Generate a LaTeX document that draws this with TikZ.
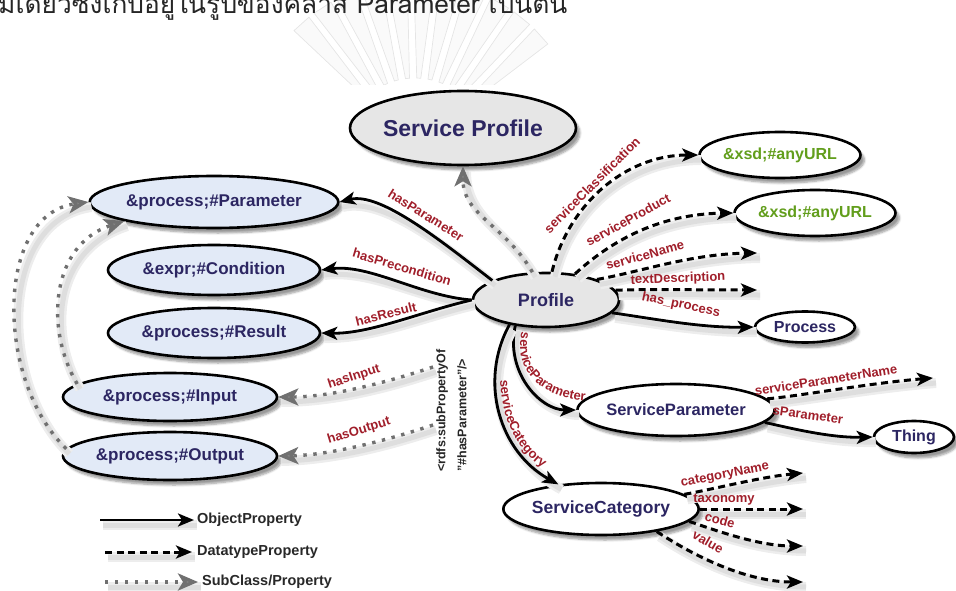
\documentclass[tikz,border=0pt]{standalone}
\usepackage{fontspec}
\setmainfont{Liberation Sans}
\newfontfamily\thaifont[Script=Thai]{Loma}
\usetikzlibrary{arrows.meta,shapes.geometric,shadows.blur,decorations.text}

\newcommand\fsz[1]{\fontsize{#1}{#1}\selectfont}

\definecolor{navytext}{RGB}{44,38,98}
\definecolor{labelred}{RGB}{160,30,42}
\definecolor{paleblue}{RGB}{226,234,247}
\definecolor{palegray}{RGB}{230,230,230}
\definecolor{urlgreen}{RGB}{98,158,28}
\definecolor{dotgray}{RGB}{112,112,112}
\definecolor{legendtext}{RGB}{40,40,40}

\tikzset{
  cls/.style={ellipse, draw=black, line width=2.6pt, inner sep=0pt,
    text=navytext, font=\fsz{17}\bfseries,
    blur shadow={shadow xshift=4pt, shadow yshift=-5pt,
      shadow blur steps=6, shadow opacity=40}},
  lbl/.style={text=labelred, font=\fsz{13}\bfseries, inner sep=0pt},
  arclabel/.style={decorate, decoration={text along path,
    text={|\fsz{13}\bfseries\color{labelred}|#1}, text align={left indent=1pt}}},
  % soft shadow under a connector: a wide pale band and a narrower darker core
  lineshadow/.style={
    preaction={draw=black!7, line width=10pt, solid, arrows=-,
      transform canvas={shift={(3pt,-5pt)}}},
    preaction={draw=black!13, line width=5pt, solid, arrows=-,
      transform canvas={shift={(3pt,-5pt)}}}},
  objarrow/.style={draw=black, line width=2.8pt, lineshadow,
    -{Stealth[length=16pt, width=13pt, inset=4pt]}},
  dataarrow/.style={draw=black, line width=3pt, dash pattern=on 7pt off 4.5pt,
    lineshadow, -{Stealth[length=16pt, width=13pt, inset=4pt]}},
  subarrow/.style={draw=dotgray, line width=3.4pt, dash pattern=on 3.4pt off 6.6pt,
    lineshadow, -{Stealth[length=20pt, width=17pt, inset=5pt, fill=dotgray!85]}},
  ray/.style={draw=gray!20, fill=gray!4, line width=0.7pt}
}

\begin{document}
\begin{tikzpicture}[x=1pt, y=-1pt]
\clip (0,0) rectangle (956,591);

% faint emblem rays behind everything
\begin{scope}
  \clip (240,0) rectangle (620,85);
  \foreach \a in {42,51,...,140} {
    \draw[ray] ([shift={(415,150)}] -\a-1.6:72) -- ([shift={(415,150)}] -\a-3.4:170)
      -- ([shift={(415,150)}] -\a+3.4:170) -- ([shift={(415,150)}] -\a+1.6:72) -- cycle;
  }
\end{scope}

% heading line of the surrounding text
\node[anchor=base west, inner sep=0pt, text=black!85] (heading) at (-2,14)
  {\thaifont\fsz{26.3}มีเดียวซึ่งเก็บอยู่ในรูปของคลาส Parameter เป็นต้น};

% classes
\node[cls, fill=palegray, minimum width=190pt, minimum height=74pt,
  font=\fsz{23}\bfseries] (sprof) at (463,128) {Service Profile};
\node[cls, fill=palegray, minimum width=146pt, minimum height=54pt,
  font=\fsz{18}\bfseries] (profile) at (546,300) {Profile};

\node[cls, fill=paleblue, minimum width=212pt, minimum height=52pt] (param) at (214,202) {\&process;\#Parameter};
\node[cls, fill=paleblue, minimum width=212pt, minimum height=50pt] (cond) at (214,270) {\&expr;\#Condition};
\node[cls, fill=paleblue, minimum width=212pt, minimum height=50pt] (result) at (214,333) {\&process;\#Result};
\node[cls, fill=paleblue, minimum width=214pt, minimum height=48pt] (input) at (170,397) {\&process;\#Input};
\node[cls, fill=paleblue, minimum width=214pt, minimum height=48pt] (output) at (170,456) {\&process;\#Output};

\node[cls, fill=white, text=urlgreen, font=\fsz{16}\bfseries, minimum width=156pt, minimum height=46pt] (urla) at (780,155) {\&xsd;\#anyURL};
\node[cls, fill=white, text=urlgreen, font=\fsz{16}\bfseries, minimum width=156pt, minimum height=46pt] (urlb) at (815,213) {\&xsd;\#anyURL};
\node[cls, fill=white, font=\fsz{16}\bfseries, minimum width=100pt, minimum height=31pt] (process) at (805,327) {Process};
\node[cls, fill=white, font=\fsz{16.5}\bfseries, minimum width=162pt, minimum height=52pt] (spar) at (676,410) {ServiceParameter};
\node[cls, fill=white, font=\fsz{16}\bfseries, minimum width=80pt, minimum height=32pt] (thing) at (914,437) {Thing};
\node[cls, fill=white, font=\fsz{17.5}\bfseries, minimum width=152pt, minimum height=52pt] (scat) at (601,509) {ServiceCategory};

% free ends of the datatype properties and of the sub-properties
\coordinate (nameEnd) at (757,253);
\coordinate (descEnd) at (757,290);
\coordinate (spnEnd) at (933,378);
\coordinate (cnEnd) at (803,473);
\coordinate (taxEnd) at (803,509);
\coordinate (codeEnd) at (803,546);
\coordinate (valEnd) at (803,582);
\coordinate (inStart) at (433,367);
\coordinate (outStart) at (433,425);

% object properties
\draw[objarrow] (profile.160) .. controls (440,240) and (380,192) .. (param.east);
\draw[objarrow] (profile.west) .. controls (420,296) and (370,264) .. (cond.east);
\draw[objarrow] (profile.west) .. controls (420,312) and (370,334) .. (result.east);
\draw[objarrow] (profile.349) .. controls (650,318) and (700,328) .. (process.west);
\draw[objarrow] (profile.220) .. controls (505,372) and (540,410) .. (spar.west);
\draw[objarrow] (profile.214) .. controls (478,382) and (500,452) .. (scat.150);
\draw[objarrow] (spar.352) .. controls (790,428) and (830,438) .. (thing.west);

% datatype properties
\draw[dataarrow] (profile.78) .. controls (568,205) and (625,155) .. (urla.west);
\draw[dataarrow] (profile.42) .. controls (612,240) and (660,214) .. (urlb.west);
\draw[dataarrow] (profile.22) .. controls (640,272) and (690,254) .. (nameEnd);
\draw[dataarrow] (profile.8) .. controls (650,289) and (700,290) .. (descEnd);
\draw[dataarrow] (spar.7) .. controls (800,396) and (870,383) .. (spnEnd);
\draw[dataarrow] (scat.10) .. controls (710,490) and (760,477) .. (cnEnd);
\draw[dataarrow] (scat.east) -- (taxEnd);
\draw[dataarrow] (scat.352) .. controls (720,532) and (760,546) .. (codeEnd);
\draw[dataarrow] (scat.338) .. controls (700,560) and (750,582) .. (valEnd);

% sub-class / sub-property links
\draw[subarrow] (profile.116) .. controls (505,225) and (463,215) .. (sprof.south);
\draw[subarrow] (inStart) .. controls (385,383) and (330,397) .. (input.east);
\draw[subarrow] (outStart) .. controls (385,441) and (330,455) .. (output.east);
\draw[subarrow] (input.172) .. controls (45,330) and (50,245) .. (param.192);
\draw[subarrow] (output.176) .. controls (-5,380) and (-5,215) .. (param.west);

% property names
\node[lbl, rotate=-32] (lpar) at (426,215) {hasParameter};
\node[lbl, rotate=-16.5] (lpre) at (402,267) {hasPrecondition};
\node[lbl, rotate=14] (lres) at (386,314) {hasResult};
\node[lbl, rotate=18] (linp) at (354,377) {hasInput};
\node[lbl, rotate=17] (lout) at (359,431) {hasOutput};
\node[lbl, rotate=45] (lcls) at (592,185) {serviceClassification};
\node[lbl, rotate=29] (lprd) at (628,220) {serviceProduct};
\node[lbl, rotate=15] (lnam) at (645,255) {serviceName};
\node[lbl, rotate=2] (ldsc) at (678,279) {textDescription};
\node[lbl, rotate=-12] (lproc) at (681,305) {has\_process};
\node[lbl, rotate=9] (lspn) at (826,380) {serviceParameterName};
\node[lbl, rotate=-8] (lsp) at (808,415) {sParameter};
\node[lbl, rotate=11] (lcn) at (725,475) {categoryName};
\node[lbl, rotate=0] (ltax) at (724,500) {taxonomy};
\node[lbl, rotate=-15] (lcode) at (720,520) {code};
\node[lbl, rotate=-30] (lval) at (708,542) {value};
\path[arclabel=serviceParameter] (522,331) .. controls (512,372) and (542,402) .. (600,401);
\path[arclabel=serviceCategory] (500,379) .. controls (502,425) and (520,462) .. (566,480);

% sub-property declaration
\node[rotate=90, anchor=north west, align=left, inner sep=0pt,
  font=\fsz{12.5}\bfseries, text=black!85, execute at begin node=\setlength{\baselineskip}{21pt}]
  (subprop) at (436,472) {<rdfs:subPropertyOf\\"\#hasParameter"/>};

% legend
\coordinate (lgA1) at (100,520); \coordinate (lgA2) at (194,520);
\coordinate (lgB1) at (105,552); \coordinate (lgB2) at (192,552);
\coordinate (lgC1) at (105,582); \coordinate (lgC2) at (198,582);
\draw[objarrow] (lgA1) -- (lgA2);
\draw[dataarrow] (lgB1) -- (lgB2);
\draw[subarrow] (lgC1) -- (lgC2);
\node[anchor=west, inner sep=0pt, font=\fsz{14.5}\bfseries, text=legendtext] (lgAt) at (197,520) {ObjectProperty};
\node[anchor=west, inner sep=0pt, font=\fsz{14.5}\bfseries, text=legendtext] (lgBt) at (197,552) {DatatypeProperty};
\node[anchor=west, inner sep=0pt, font=\fsz{14.5}\bfseries, text=legendtext] (lgCt) at (202,582) {SubClass/Property};
\end{tikzpicture}
\end{document}
